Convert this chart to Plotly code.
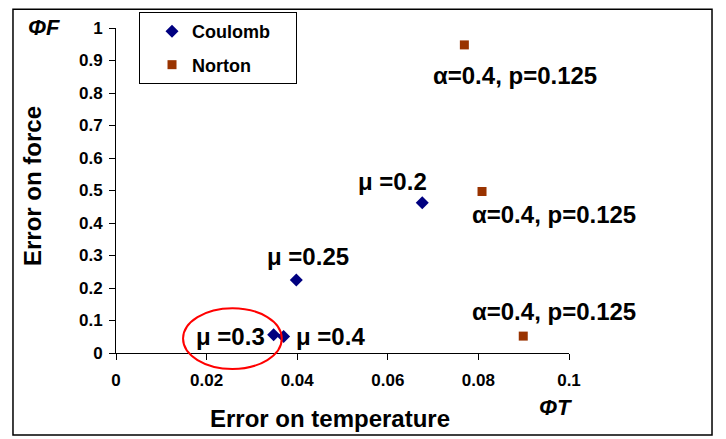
import plotly.graph_objects as go

coulomb_x = [0.0348, 0.0370, 0.0398, 0.0676]
coulomb_y = [0.056, 0.051, 0.225, 0.462]
coulomb_labels = ["μ =0.3", "μ =0.4", "μ =0.25", "μ =0.2"]

norton_x = [0.0769, 0.0808, 0.0899]
norton_y = [0.948, 0.497, 0.052]
norton_labels = ["α=0.4, p=0.125", "α=0.4, p=0.125", "α=0.4, p=0.125"]

x_ticks = [0, 0.02, 0.04, 0.06, 0.08, 0.1]
x_tick_text = ["0", "0.02", "0.04", "0.06", "0.08", "0.1"]
y_ticks = [0, 0.1, 0.2, 0.3, 0.4, 0.5, 0.6, 0.7, 0.8, 0.9, 1]
y_tick_text = ["0", "0.1", "0.2", "0.3", "0.4", "0.5", "0.6", "0.7", "0.8", "0.9", "1"]

FONT = "Liberation Sans, Arial, sans-serif"
LBL = 24
NBSP = "\u00a0"

fig = go.Figure()
fig.add_trace(go.Scatter(x=coulomb_x, y=coulomb_y, mode="markers", name="<b>Coulomb</b>" + NBSP * 4,
                         legendgroup="c",
                         marker=dict(symbol="diamond", size=10, color="#000080")))
fig.add_trace(go.Scatter(x=norton_x, y=norton_y, mode="markers", name="<b>Norton</b>",
                         legendgroup="n",
                         marker=dict(symbol="square", size=9, color="#993300")))

# label offsets (pixels, dx right, dy down) relative to points
coulomb_off = [(-43, 2), (47, 0), (12, -23), (-30, -21)]
norton_off = [(51, 31), (72, 23), (31, -25)]
ann = []
for x, y, t, (dx, dy) in zip(coulomb_x, coulomb_y, coulomb_labels, coulomb_off):
    ann.append(dict(x=x, y=y, text="<b>%s</b>" % t, showarrow=False, xshift=dx, yshift=-dy,
                    font=dict(size=LBL, color="black", family=FONT)))
for x, y, t, (dx, dy) in zip(norton_x, norton_y, norton_labels, norton_off):
    ann.append(dict(x=x, y=y, text="<b>%s</b>" % t, showarrow=False, xshift=dx, yshift=-dy,
                    font=dict(size=LBL, color="black", family=FONT)))

ann += [
    dict(xref="paper", yref="paper", x=-0.159, y=1.003, text="<b><i>ΦF</i></b>", showarrow=False,
         xanchor="center", yanchor="middle", font=dict(size=22, color="black", family=FONT)),
    dict(xref="paper", yref="paper", x=0.971, y=-0.169, text="<b><i>ΦT</i></b>", showarrow=False,
         xanchor="center", yanchor="middle", font=dict(size=22, color="black", family=FONT)),
    dict(xref="paper", yref="paper", x=0.472, y=-0.2, text="<b>Error on temperature</b>", showarrow=False,
         xanchor="center", yanchor="middle", font=dict(size=24, color="black", family=FONT)),
    dict(xref="paper", yref="paper", x=-0.183, y=0.514, text="<b>Error on force</b>", showarrow=False,
         xanchor="center", yanchor="middle", textangle=-90, font=dict(size=24, color="black", family=FONT)),
]

fig.update_layout(
    width=718, height=431,
    margin=dict(l=108, r=157, t=20, b=86, autoexpand=False),
    paper_bgcolor="white", plot_bgcolor="white",
    font=dict(family=FONT, color="black"),
    annotations=ann,
    legend=dict(x=0.0508, y=1.049, xanchor="left", yanchor="top",
                bordercolor="black", borderwidth=1, bgcolor="white",
                font=dict(size=18, family=FONT, color="black"),
                itemsizing="trace", tracegroupgap=7, indentation=12),
    showlegend=True,
    shapes=[
        dict(type="rect", xref="paper", yref="paper", x0=-0.2274, x1=1.3157, y0=-0.252, y1=1.058,
             line=dict(color="black", width=1.5)),
        dict(type="circle", xref="paper", yref="paper", x0=0.148, x1=0.366, y0=-0.049, y1=0.138,
             line=dict(color="red", width=2)),
    ],
)
fig.update_xaxes(range=[0, 0.1], tickvals=x_ticks, ticktext=["<b>%s</b>" % t for t in x_tick_text],
                 showgrid=False, zeroline=False, showline=True, linecolor="black", linewidth=1,
                 ticks="outside", ticklen=6, tickcolor="black", ticklabelstandoff=6,
                 tickfont=dict(size=17, family=FONT, color="black"))
fig.update_yaxes(range=[0, 1], tickvals=y_ticks, ticktext=["<b>%s</b>" % t for t in y_tick_text],
                 showgrid=False, zeroline=False, showline=True, linecolor="black", linewidth=1,
                 ticks="outside", ticklen=6, tickcolor="black", ticklabelstandoff=3,
                 tickfont=dict(size=17, family=FONT, color="black"))

fig.write_html("out.html")
